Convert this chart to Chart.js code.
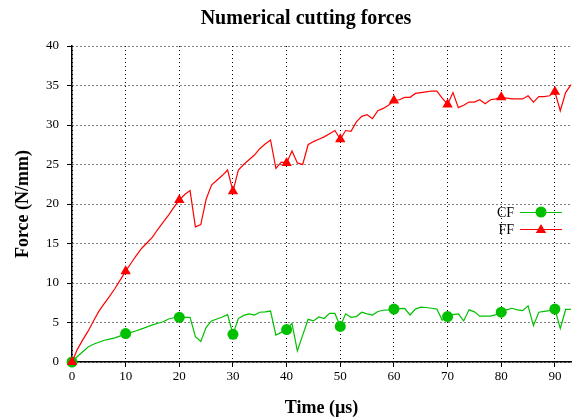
<!DOCTYPE html>
<html>
<head>
<meta charset="utf-8">
<script src="https://cdn.jsdelivr.net/npm/chart.js@4.4.1/dist/chart.umd.min.js"></script>
<style>
  html, body { margin: 0; padding: 0; background: #ffffff; }
  #wrap { width: 577px; height: 419px; }
</style>
</head>
<body>
<div id="wrap"><canvas id="c" width="577" height="419"></canvas></div>
<script>
const timeUs = [0,1,2,3,4,5,6,7,8,9,10,11,12,13,14,15,16,17,18,19,20,21,22,23,24,25,26,27,28,29,30,31,32,33,34,35,36,37,38,39,40,41,42,43,44,45,46,47,48,49,50,51,52,53,54,55,56,57,58,59,60,61,62,63,64,65,66,67,68,69,70,71,72,73,74,75,76,77,78,79,80,81,82,83,84,85,86,87,88,89,90,91,92,93];

const cfValues = [0,0.7,1.3,1.9,2.25,2.5,2.75,2.9,3.05,3.3,3.6,3.75,3.95,4.2,4.45,4.7,4.9,5.1,5.45,5.6,5.65,5.65,5.65,3.2,2.6,4.4,5.2,5.45,5.7,6.0,3.5,5.5,5.9,6.1,5.95,6.3,6.35,6.45,3.4,3.75,4.1,4.9,1.4,3.4,5.4,5.2,5.7,5.5,6.15,6.15,4.5,6.1,5.65,5.75,6.3,6.1,5.95,6.4,6.55,6.6,6.7,6.75,6.8,5.95,6.7,6.95,6.9,6.8,6.7,5.3,5.75,6.0,6.1,5.2,6.6,6.35,5.8,5.8,5.8,6.0,6.3,6.6,6.8,6.6,6.5,7.1,4.6,6.3,6.4,6.5,6.7,4.25,6.65,6.65];

const ffValues = [0,1.6,2.8,3.9,5.2,6.4,7.4,8.3,9.3,10.4,11.5,12.5,13.5,14.4,15.1,15.8,16.8,17.7,18.6,19.6,20.5,21.2,21.7,17.1,17.4,20.6,22.4,23.0,23.6,24.3,21.6,24.3,25.0,25.6,26.2,27.0,27.6,28.1,24.5,25.3,25.2,26.7,25.2,25.0,27.5,27.9,28.2,28.5,28.9,29.3,28.2,29.3,29.2,30.4,31.1,31.3,30.8,31.8,32.1,32.5,33.1,33.2,33.5,33.5,34.0,34.1,34.2,34.3,34.3,33.4,32.6,34.1,32.2,32.5,32.9,32.9,33.2,32.7,33.2,33.3,33.5,33.4,33.3,33.3,33.3,33.7,32.9,33.6,33.6,33.7,34.2,31.8,34.1,35.1];

const seriesNames = ['CF', 'FF'];
const chartTitle = 'Numerical cutting forces';
const xTickStep = 10;
const yTickStep = 5;

const GREEN = '#00c000';
const RED = '#ff0000';
const FONT = "'Liberation Serif', 'Times New Roman', serif";

function toPoints(xs, ys) { return xs.map((x, i) => ({x: x, y: ys[i]})); }

const titleLegendPlugin = {
  id: 'titleAndLegend',
  afterDraw(chart) {
    const ctx = chart.ctx;
    ctx.save();
    ctx.fillStyle = '#000';
    ctx.font = "bold 20px " + FONT;
    ctx.textAlign = 'center';
    ctx.textBaseline = 'middle';
    ctx.fillText(chartTitle, 306, 19);
    const rows = [
      {name: seriesNames[0], color: GREEN, shape: 'circle', y: 212},
      {name: seriesNames[1], color: RED, shape: 'triangle', y: 229}
    ];
    rows.forEach(r => {
      ctx.fillStyle = '#000';
      ctx.font = "14px " + FONT;
      ctx.textAlign = 'right';
      ctx.textBaseline = 'middle';
      ctx.fillText(r.name, 514, r.y + 1);
      ctx.strokeStyle = r.color;
      ctx.lineWidth = 1.2;
      ctx.beginPath();
      ctx.moveTo(520, r.y + 0.5);
      ctx.lineTo(562, r.y + 0.5);
      ctx.stroke();
      ctx.fillStyle = r.color;
      ctx.beginPath();
      if (r.shape === 'circle') {
        ctx.arc(541, r.y, 5.5, 0, Math.PI * 2);
      } else {
        const rad = 6;
        for (let k = 0; k < 3; k++) {
          const a = k * 2 * Math.PI / 3;
          const px = 541 + Math.sin(a) * rad, py = r.y - Math.cos(a) * rad + 1;
          if (k === 0) ctx.moveTo(px, py); else ctx.lineTo(px, py);
        }
        ctx.closePath();
      }
      ctx.fill();
    });
    ctx.restore();
  }
};

new Chart(document.getElementById('c'), {
  type: 'line',
  data: {
    datasets: [
      {
        label: seriesNames[0],
        data: toPoints(timeUs, cfValues),
        borderColor: GREEN,
        backgroundColor: GREEN,
        borderWidth: 1.2,
        pointStyle: 'circle',
        pointRadius: ctx => (ctx.dataIndex % 10 === 0 ? 5.5 : 0),
        pointBorderWidth: 0,
        pointHoverRadius: 0,
        tension: 0,
        order: 1,
        clip: false
      },
      {
        label: seriesNames[1],
        data: toPoints(timeUs, ffValues),
        borderColor: RED,
        backgroundColor: RED,
        borderWidth: 1.2,
        pointStyle: 'triangle',
        pointRadius: ctx => (ctx.dataIndex % 10 === 0 ? 6 : 0),
        pointBorderWidth: 0,
        pointHoverRadius: 0,
        tension: 0,
        order: 0,
        clip: false
      }
    ]
  },
  options: {
    responsive: false,
    animation: false,
    events: [],
    layout: { padding: { left: 0, right: 5, top: 46, bottom: 0 } },
    plugins: {
      legend: { display: false },
      tooltip: { enabled: false },
      title: { display: false }
    },
    scales: {
      x: {
        type: 'linear',
        min: 0,
        max: 93,
        afterFit: s => { s.height = 57; },
        ticks: {
          stepSize: xTickStep,
          includeBounds: false,
          color: '#000',
          font: { family: FONT, size: 13 },
          padding: 2,
          maxRotation: 0
        },
        grid: {
          color: '#000',
          lineWidth: 1,
          tickLength: 5,
          tickColor: '#000'
        },
        border: { display: true, color: '#000', width: 1.5, dash: [1, 3] },
        title: {
          display: true,
          text: 'Time (µs)',
          color: '#000',
          font: { family: FONT, size: 18, weight: 'bold', lineHeight: 1.2 },
          padding: { top: 0, bottom: 0 }
        }
      },
      y: {
        type: 'linear',
        min: 0,
        max: 40,
        afterFit: s => { s.width = 72; },
        ticks: {
          stepSize: yTickStep,
          color: '#000',
          font: { family: FONT, size: 13 },
          padding: 8
        },
        grid: {
          color: '#000',
          lineWidth: 1,
          tickLength: 5,
          tickColor: '#000'
        },
        border: { display: true, color: '#000', width: 1.5, dash: [1, 3] },
        title: {
          display: true,
          text: 'Force (N/mm)',
          color: '#000',
          font: { family: FONT, size: 18, weight: 'bold', lineHeight: 1.2 },
          padding: { top: 13, bottom: 0 }
        }
      }
    }
  },
  plugins: [titleLegendPlugin]
});
</script>
</body>
</html>
